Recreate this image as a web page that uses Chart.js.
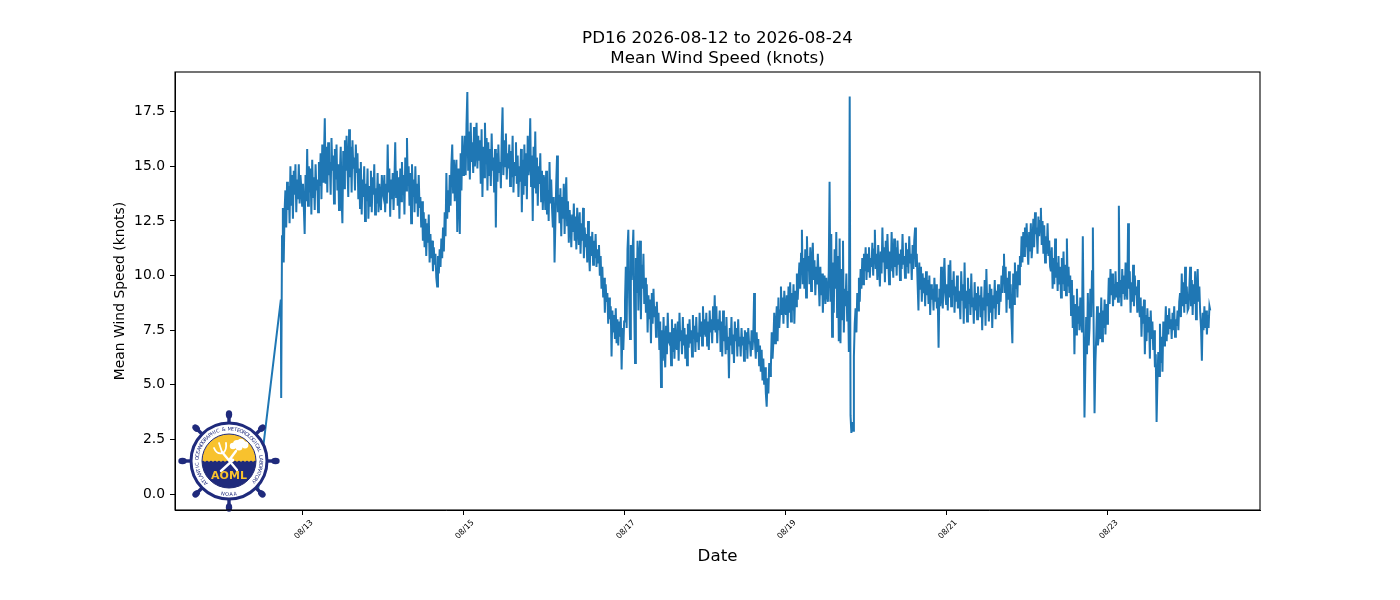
<!DOCTYPE html>
<html>
<head>
<meta charset="utf-8">
<script src="https://cdn.jsdelivr.net/npm/chart.js@4.4.1/dist/chart.umd.min.js"></script>
<style>html,body{margin:0;padding:0;background:#fff;}canvas{display:block;}</style>
</head>
<body>
<canvas id="c" width="1400" height="600"></canvas>
<script>
// ---- text ----
const titleLines = ['PD16 2026-08-12 to 2026-08-24', 'Mean Wind Speed (knots)'];
const yAxisTitle = 'Mean Wind Speed (knots)';
const xAxisTitle = 'Date';
// ---- ticks (x in hours since 2026-08-12 00:00) ----
const xTickHours = [24, 72, 120, 168, 216, 264];
const xTickLabels = ['08/13', '08/15', '08/17', '08/19', '08/21', '08/23'];
const yTickValues = [0, 2.5, 5, 7.5, 10, 12.5, 15, 17.5];
// ---- data (knots); first two samples irregular, then 15-min samples per day ----
const leadHours = [10.6, 17.4];
const leadValues = [0.18, 8.9];
const stepHours = 0.25;
const wind0812 = [4.4, 11.8, 13.1, 10.6, 12.9, 13.9, 12.2, 14.3, 13.0, 14.1, 12.4, 15.0,
 13.2, 14.6, 12.6, 14.8, 13.7, 15.1, 12.9, 14.4, 13.5, 15.1, 13.3, 14.6, 14.0, 13.2];
const wind0813 = [14.2, 13.1, 11.9, 14.6, 13.4, 15.8, 13.2, 15.0, 13.8, 14.9, 12.8, 15.3,
 13.6, 14.5, 13.0, 15.1, 13.9, 14.4, 12.9, 15.2, 14.1, 15.6, 13.5, 16.0,
 14.3, 15.4, 17.2, 14.2, 15.9, 13.8, 16.1, 14.6, 15.2, 13.7, 16.3, 14.8,
 15.5, 13.3, 15.8, 14.4, 16.0, 13.9, 15.1, 13.0, 14.7, 15.9, 13.6, 12.4,
 15.7, 14.0, 16.2, 14.8, 16.4, 15.0, 13.6, 16.7, 14.5, 15.9, 13.8, 16.2,
 14.9, 15.4, 13.9, 16.0, 14.7, 15.6, 13.5, 14.9, 13.1, 15.2, 12.8, 14.4,
 13.6, 15.0, 12.5, 14.2, 13.4, 14.9, 12.6, 14.1, 13.2, 14.8, 12.9, 14.5,
 13.7, 15.1, 12.8, 14.0, 13.3, 14.7, 12.9, 14.2, 13.5, 13.0, 14.6, 13.8];
const wind0814 = [13.6, 14.6, 12.9, 14.2, 13.3, 16.0, 13.8, 14.9, 12.7, 14.4, 13.5, 14.7,
 13.0, 14.3, 16.1, 13.6, 14.8, 13.2, 14.5, 12.6, 14.9, 13.4, 15.2, 13.7,
 14.6, 12.8, 15.4, 13.9, 16.3, 14.1, 15.0, 13.2, 14.7, 12.4, 15.1, 13.6,
 14.4, 12.9, 15.0, 13.3, 14.2, 12.7, 14.6, 13.1, 13.6, 12.2, 13.4, 11.6,
 12.9, 11.3, 12.6, 10.9, 12.4, 11.5, 12.8, 10.6, 11.9, 10.8, 11.6, 10.2,
 11.3, 10.5, 11.0, 9.9, 9.5, 10.9, 10.1, 11.2, 10.4, 11.7, 10.8, 12.2,
 11.1, 12.9, 11.8, 14.7, 12.6, 13.9, 12.9, 14.6, 13.2, 15.1, 16.0, 13.8,
 15.3, 13.4, 14.8, 15.3, 12.0, 14.9, 13.7, 11.9, 15.6, 13.9, 16.4, 14.6];
const wind0815 = [15.1, 16.4, 14.6, 16.9, 18.4, 14.8, 16.6, 14.4, 17.0, 15.2, 16.1, 14.7,
 16.8, 15.0, 15.7, 17.0, 14.9, 16.4, 15.3, 16.2, 14.2, 16.7, 13.6, 15.9,
 14.5, 17.0, 15.1, 16.3, 13.9, 16.1, 14.6, 15.8, 14.1, 16.5, 14.8, 15.4,
 13.8, 15.8, 12.2, 15.6, 14.3, 16.0, 14.7, 15.2, 14.0, 16.3, 17.7, 14.6,
 16.2, 15.0, 16.5, 14.4, 15.6, 14.9, 16.0, 14.1, 15.7, 14.5, 16.4, 13.8,
 15.2, 14.6, 16.1, 14.2, 15.5, 13.6, 15.0, 14.3, 15.8, 12.9, 15.3, 13.7,
 16.0, 14.1, 15.6, 13.5, 16.4, 14.6, 15.1, 17.2, 14.1, 15.5, 12.5, 15.9,
 14.0, 16.6, 13.8, 15.4, 13.2, 15.0, 14.2, 15.6, 13.4, 14.8, 13.0, 14.6];
const wind0816 = [14.3, 13.0, 14.8, 12.8, 13.9, 12.5, 15.2, 13.3, 14.4, 13.1, 12.2, 13.6,
 10.6, 12.4, 14.2, 15.5, 12.9, 13.7, 12.4, 14.0, 11.8, 13.6, 12.6, 14.2,
 11.9, 13.5, 14.5, 12.3, 13.4, 11.5, 13.0, 12.4, 11.3, 12.8, 12.0, 13.3,
 11.6, 12.7, 11.2, 13.1, 12.2, 11.4, 12.9, 11.0, 12.4, 11.6, 13.1, 10.8,
 12.2, 11.3, 11.9, 10.6, 12.5, 11.2, 10.2, 11.8, 10.9, 12.0, 10.5, 11.6,
 10.8, 11.9, 10.4, 11.2, 10.6, 11.4, 10.0, 10.9, 9.4, 10.4, 9.0, 9.9,
 8.3, 9.6, 8.8, 9.2, 7.8, 9.0, 8.0, 8.6, 6.3, 8.4, 7.4, 8.2,
 7.1, 8.5, 6.9, 8.0, 6.8, 7.9, 7.2, 8.1, 5.7, 7.6, 6.6, 7.9];
const wind0817 = [8.8, 10.4, 7.6, 11.2, 12.1, 9.0, 7.1, 11.4, 9.8, 11.0, 12.1, 8.6,
 6.0, 10.8, 9.2, 11.6, 8.4, 10.9, 11.6, 8.0, 10.5, 9.4, 11.0, 8.7,
 9.9, 8.3, 9.6, 7.4, 9.1, 8.0, 8.9, 6.9, 9.2, 7.8, 9.4, 8.1,
 8.6, 7.2, 8.8, 7.6, 8.3, 6.6, 7.9, 4.9, 7.5, 6.1, 8.1, 6.7,
 5.8, 7.7, 6.4, 8.3, 7.0, 6.9, 7.4, 5.9, 8.0, 6.5, 7.6, 6.2,
 7.8, 6.8, 6.6, 7.9, 6.1, 8.3, 7.0, 7.5, 6.4, 8.1, 6.8, 7.6,
 6.2, 7.3, 5.9, 7.8, 6.7, 8.0, 6.9, 7.5, 6.3, 8.2, 7.1, 7.7,
 6.5, 8.1, 7.0, 7.4, 6.6, 8.3, 7.2, 7.9, 6.8, 8.6, 7.3, 8.0];
const wind0818 = [7.2, 8.3, 6.8, 7.9, 6.6, 8.4, 7.4, 8.0, 6.9, 8.6, 7.5, 9.1,
 7.4, 8.6, 6.9, 8.0, 7.5, 8.4, 6.5, 7.9, 6.3, 8.4, 7.0, 7.7,
 6.4, 8.1, 6.6, 7.2, 5.3, 7.6, 6.8, 8.1, 6.4, 7.3, 6.0, 7.9,
 7.0, 7.6, 6.3, 8.0, 6.8, 7.2, 6.3, 7.6, 6.8, 7.2, 6.1, 7.5,
 6.6, 7.4, 6.2, 7.6, 6.9, 7.0, 6.3, 7.5, 6.6, 7.2, 9.2, 7.0,
 6.2, 7.4, 6.5, 7.1, 5.9, 6.8, 5.6, 6.6, 5.2, 6.2, 5.0, 5.8,
 4.6, 4.0, 5.3, 4.6, 6.0, 5.4, 5.8, 7.4, 6.2, 7.0, 8.3, 6.9,
 7.6, 8.6, 7.0, 9.0, 7.6, 8.4, 9.5, 8.2, 9.0, 7.8, 9.3, 8.4];
const wind0819 = [8.2, 9.1, 7.6, 9.5, 8.3, 9.7, 7.9, 9.2, 8.4, 9.6, 7.8, 9.3,
 8.6, 10.1, 8.9, 9.8, 10.6, 9.4, 11.0, 12.1, 9.6, 10.8, 9.4, 11.2,
 9.0, 11.8, 10.2, 10.9, 9.6, 11.3, 9.3, 10.6, 11.5, 9.8, 10.7, 9.1,
 10.4, 9.6, 11.0, 9.8, 8.6, 10.4, 9.1, 10.1, 8.3, 9.7, 10.0, 8.7,
 9.9, 9.2, 8.8, 10.2, 14.3, 8.8, 11.9, 7.2, 10.6, 8.3, 11.2, 9.4,
 12.0, 8.1, 10.9, 7.0, 11.7, 6.9, 10.3, 8.0, 11.6, 7.4, 9.4, 8.6,
 10.1, 7.9, 9.3, 6.5, 18.2, 3.6, 2.8, 3.3, 2.9, 6.3, 7.8, 8.5,
 7.4, 9.2, 8.4, 9.9, 8.8, 10.3, 9.4, 10.8, 9.6, 11.0, 10.2, 11.3];
const wind0820 = [9.8, 11.0, 10.2, 11.3, 9.9, 10.8, 10.4, 11.5, 10.0, 11.2, 12.1, 10.3,
 11.0, 9.8, 11.4, 10.5, 9.5, 11.1, 10.1, 12.2, 10.6, 11.3, 9.7, 11.6,
 10.3, 11.9, 10.7, 9.6, 11.1, 10.2, 12.0, 10.8, 9.9, 11.7, 10.4, 11.3,
 10.0, 11.6, 10.5, 11.0, 9.8, 11.2, 10.3, 11.9, 10.5, 10.9, 9.9, 11.5,
 10.4, 11.2, 10.1, 11.8, 10.6, 11.0, 9.8, 11.4, 10.3, 11.6, 12.2, 10.4,
 11.0, 9.6, 8.4, 10.6, 9.4, 10.4, 8.8, 10.1, 9.2, 9.9, 8.6, 10.2,
 9.1, 9.8, 8.7, 10.0, 8.2, 9.6, 8.9, 9.4, 8.4, 9.9, 8.8, 9.6,
 8.5, 9.0, 6.7, 9.4, 8.6, 10.4, 9.0, 8.5, 9.8, 10.8, 9.2, 8.7];
const wind0821 = [9.6, 8.4, 10.5, 9.0, 10.7, 8.6, 9.8, 9.1, 10.2, 8.3, 9.5, 8.8,
 10.0, 8.5, 9.3, 8.9, 8.0, 10.2, 8.9, 9.6, 7.8, 10.6, 8.5, 9.3,
 7.9, 9.9, 8.7, 9.4, 8.2, 10.1, 8.6, 9.0, 7.8, 9.7, 8.4, 9.2,
 8.0, 9.5, 8.6, 9.1, 8.1, 9.5, 7.5, 9.0, 8.4, 9.8, 7.7, 10.3,
 8.6, 9.2, 7.9, 9.6, 8.3, 9.4, 7.6, 9.1, 8.5, 9.8, 8.0, 9.3,
 8.7, 9.6, 8.2, 9.4, 8.8, 10.0, 9.2, 10.4, 11.0, 9.2, 10.4, 8.3,
 9.9, 8.9, 10.2, 8.5, 9.6, 8.0, 6.9, 10.1, 8.7, 10.6, 9.4, 10.2,
 9.0, 10.5, 9.6, 10.9, 10.4, 11.8, 10.6, 12.0, 10.9, 12.2, 11.3, 12.4];
const wind0822 = [11.2, 10.5, 12.0, 11.1, 12.4, 10.8, 11.5, 12.6, 11.3, 12.9, 11.9, 12.2,
 11.0, 12.7, 11.8, 12.5, 13.1, 11.4, 12.5, 11.0, 12.3, 10.6, 11.8, 11.0,
 12.4, 10.9, 11.6, 10.4, 10.2, 11.3, 9.4, 10.8, 9.6, 11.7, 9.9, 10.6,
 9.3, 10.9, 9.6, 10.4, 9.0, 10.8, 9.6, 11.1, 9.3, 10.5, 9.1, 11.7,
 9.5, 10.4, 9.2, 10.0, 8.2, 9.8, 7.6, 9.1, 6.4, 8.7, 7.3, 9.4,
 7.8, 8.6, 7.5, 9.0, 8.1, 7.4, 11.8, 8.0, 3.5, 5.8, 8.1, 6.4,
 9.2, 6.8, 7.6, 9.4, 8.1, 10.2, 12.2, 7.4, 3.7, 6.0, 7.2, 8.6,
 6.8, 7.2, 8.3, 7.1, 9.0, 7.0, 8.4, 7.6, 8.9, 7.3, 8.7, 7.8];
const wind0823 = [8.4, 9.9, 8.7, 10.3, 9.1, 10.1, 8.6, 9.6, 8.9, 10.2, 9.0, 9.7,
 8.8, 13.2, 9.0, 9.8, 8.6, 10.3, 9.2, 10.0, 8.9, 10.6, 9.3, 8.9,
 12.4, 9.4, 10.2, 8.3, 9.7, 8.8, 10.5, 8.6, 10.0, 9.1, 9.5, 8.3,
 9.8, 8.7, 8.1, 9.0, 7.2, 8.6, 7.8, 8.9, 6.4, 8.2, 7.0, 8.5,
 7.4, 8.1, 6.2, 8.4, 7.1, 7.9, 6.6, 7.5, 5.8, 6.4, 3.3, 5.2,
 6.5, 5.4, 7.8, 6.0, 7.2, 5.6, 7.9, 6.8, 7.4, 8.6, 7.0, 8.2,
 7.3, 8.5, 7.6, 8.0, 7.1, 8.3, 7.5, 8.6, 7.2, 8.0, 7.7, 8.4,
 7.5, 8.8, 9.2, 8.1, 10.1, 8.6, 9.7, 8.3, 10.4, 8.7, 9.5, 8.4];
const wind0824 = [8.5, 9.4, 10.4, 8.6, 9.8, 8.2, 9.6, 8.7, 10.2, 8.0, 9.4, 10.3,
 8.8, 9.5, 8.3, 7.6, 6.1, 8.3, 7.5, 8.6, 7.6, 8.4, 7.3, 8.2, 7.6, 8.6, 8.4];
const dayStartHours = [17.5, 24, 48, 72, 96, 120, 144, 168, 192, 216, 240, 264, 288];
const dayValues = [wind0812, wind0813, wind0814, wind0815, wind0816, wind0817, wind0818,
 wind0819, wind0820, wind0821, wind0822, wind0823, wind0824];

// ---- build points ----
const points = [];
leadHours.forEach((h, i) => points.push({x: h, y: leadValues[i]}));
dayValues.forEach((arr, d) => arr.forEach((v, i) => points.push({x: dayStartHours[d] + i * stepHours, y: v})));

const FONT = '"DejaVu Sans", "Liberation Sans", sans-serif';

const boxPlugin = {
  id: 'box',
  afterDraw(chart) {
    const {ctx, chartArea: a} = chart;
    ctx.save();
    ctx.strokeStyle = '#000';
    ctx.lineWidth = 1.1;
    ctx.strokeRect(a.left, a.top, a.right - a.left, a.bottom - a.top);
    ctx.restore();
  }
};

const titlePlugin = {
  id: 'mplTitle',
  afterDraw(chart) {
    const {ctx, chartArea: a} = chart;
    ctx.save();
    ctx.fillStyle = '#000';
    ctx.font = '16.7px ' + FONT;
    ctx.textAlign = 'center';
    ctx.textBaseline = 'alphabetic';
    const cx = (a.left + a.right) / 2;
    ctx.fillText(titleLines[0], cx, 42.5);
    ctx.fillText(titleLines[1], cx, 62.5);
    ctx.restore();
  }
};

function drawLogo(ctx, cx, cy) {
  const navy = '#1f2a7c', yellow = '#f8c22e';
  ctx.save();
  ctx.strokeStyle = navy; ctx.fillStyle = navy;
  for (let k = 0; k < 8; k++) {
    const a = k * Math.PI / 4, c = Math.cos(a), s = Math.sin(a);
    ctx.lineWidth = 3.4;
    ctx.beginPath(); ctx.moveTo(cx + c * 36, cy + s * 36); ctx.lineTo(cx + c * 45, cy + s * 45); ctx.stroke();
    ctx.save(); ctx.translate(cx + c * 46.5, cy + s * 46.5); ctx.rotate(a);
    ctx.beginPath(); ctx.ellipse(0, 0, 4.2, 3.2, 0, 0, Math.PI * 2); ctx.fill();
    ctx.restore();
  }
  ctx.beginPath(); ctx.arc(cx, cy, 38, 0, Math.PI * 2);
  ctx.fillStyle = '#fff'; ctx.fill();
  ctx.lineWidth = 3; ctx.strokeStyle = navy; ctx.stroke();
  ctx.save();
  ctx.beginPath(); ctx.arc(cx, cy, 27, 0, Math.PI * 2); ctx.clip();
  ctx.fillStyle = yellow; ctx.fillRect(cx - 28, cy - 28, 56, 56);
  ctx.fillStyle = navy; ctx.beginPath(); ctx.moveTo(cx - 28, cy + 1);
  for (let x = -28; x < 28; x += 4) ctx.quadraticCurveTo(cx + x + 2, cy - 1.6, cx + x + 4, cy + 1);
  ctx.lineTo(cx + 28, cy + 28); ctx.lineTo(cx - 28, cy + 28); ctx.closePath(); ctx.fill();
  ctx.restore();
  ctx.beginPath(); ctx.arc(cx, cy, 27, 0, Math.PI * 2); ctx.lineWidth = 1; ctx.strokeStyle = navy; ctx.stroke();
  ctx.strokeStyle = '#fff'; ctx.fillStyle = '#fff'; ctx.lineCap = 'round'; ctx.lineJoin = 'round';
  ctx.lineWidth = 2.4;
  ctx.beginPath(); ctx.moveTo(cx - 7, cy - 9); ctx.lineTo(cx + 8, cy + 9); ctx.stroke();
  ctx.lineWidth = 1.8;
  ctx.beginPath();
  ctx.moveTo(cx - 15, cy - 13); ctx.quadraticCurveTo(cx - 12, cy - 6, cx - 6, cy - 8);
  ctx.quadraticCurveTo(cx - 2, cy - 11, cx - 3, cy - 18);
  ctx.moveTo(cx - 10, cy - 18); ctx.lineTo(cx - 7, cy - 9);
  ctx.stroke();
  ctx.lineWidth = 2.4;
  ctx.beginPath(); ctx.moveTo(cx + 7, cy - 10); ctx.lineTo(cx + 1, cy - 2); ctx.lineTo(cx + 4, cy - 1); ctx.lineTo(cx - 8, cy + 10); ctx.stroke();
  [[4, -15, 3.2], [8, -17, 4], [12, -18, 4.2], [16, -16, 3.4], [10, -14, 3.5]].forEach(([dx, dy, r]) => {
    ctx.beginPath(); ctx.arc(cx + dx, cy + dy, r, 0, Math.PI * 2); ctx.fill();
  });
  ctx.fillStyle = yellow; ctx.font = 'bold 11px ' + FONT;
  ctx.textAlign = 'center'; ctx.textBaseline = 'middle';
  ctx.fillText('AOML', cx, cy + 15);
  ctx.fillStyle = navy; ctx.font = '5px ' + FONT; ctx.textBaseline = 'alphabetic';
  const ring = 'ATLANTIC OCEANOGRAPHIC & METEOROLOGICAL LABORATORY';
  const a0 = 134 * Math.PI / 180, a1 = 403 * Math.PI / 180;
  for (let i = 0; i < ring.length; i++) {
    const a = a0 + (a1 - a0) * (i + 0.5) / ring.length;
    ctx.save(); ctx.translate(cx + Math.cos(a) * 30.5, cy + Math.sin(a) * 30.5); ctx.rotate(a + Math.PI / 2);
    ctx.fillText(ring[i], 0, 0); ctx.restore();
  }
  const noaa = 'NOAA';
  for (let i = 0; i < noaa.length; i++) {
    const a = (90 + 10.5 - 7 * i) * Math.PI / 180;
    ctx.save(); ctx.translate(cx + Math.cos(a) * 35, cy + Math.sin(a) * 35); ctx.rotate(a - Math.PI / 2);
    ctx.fillText(noaa[i], 0, 0); ctx.restore();
  }
  ctx.restore();
}

const logoPlugin = {
  id: 'logo',
  afterDatasetsDraw(chart) { drawLogo(chart.ctx, 229, 461); }
};

new Chart(document.getElementById('c').getContext('2d'), {
  type: 'line',
  data: {
    datasets: [{
      data: points,
      borderColor: '#1f77b4',
      borderWidth: 2,
      pointRadius: 0,
      tension: 0,
      fill: false
    }]
  },
  options: {
    responsive: false,
    animation: false,
    devicePixelRatio: 1,
    layout: {padding: {left: 0, right: 140, top: 72, bottom: 0}},
    plugins: {legend: {display: false}, tooltip: {enabled: false}, title: {display: false}},
    scales: {
      x: {
        type: 'linear', min: -14.16, max: 309.33,
        afterBuildTicks: s => { s.ticks = xTickHours.map(v => ({value: v})); },
        afterFit: s => { s.height = 90; },
        ticks: {
          callback: (v, i) => xTickLabels[i],
          autoSkip: false, maxRotation: 45, minRotation: 45,
          font: {family: FONT, size: 8}, color: '#000', padding: 3, labelOffset: 9
        },
        grid: {drawOnChartArea: false, drawTicks: true, tickLength: 5, color: '#000'},
        border: {display: true, color: '#000', width: 1},
        title: {display: true, text: xAxisTitle, color: '#000', font: {family: FONT, size: 16.7}, padding: {top: 4, bottom: 33}}
      },
      y: {
        min: -0.73, max: 19.32,
        afterBuildTicks: s => { s.ticks = yTickValues.map(v => ({value: v})); },
        afterFit: s => { s.width = 175; },
        ticks: {callback: v => Number(v).toFixed(1), font: {family: FONT, size: 13.9}, color: '#000', padding: 5},
        grid: {drawOnChartArea: false, drawTicks: true, tickLength: 5, color: '#000'},
        border: {display: true, color: '#000', width: 1},
        title: {display: true, text: yAxisTitle, color: '#000', font: {family: FONT, size: 13.9}, padding: {top: 112.5, bottom: 0}}
      }
    }
  },
  plugins: [boxPlugin, titlePlugin, logoPlugin]
});
</script>
</body>
</html>
